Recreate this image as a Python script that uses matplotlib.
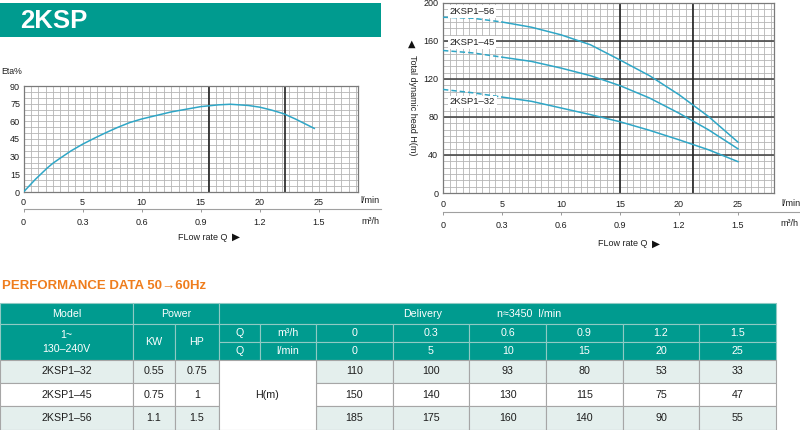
import numpy as np
import matplotlib
matplotlib.use('Agg')
import matplotlib.pyplot as plt
from matplotlib.patches import Rectangle

plt.rcParams['font.family'] = ['Liberation Sans', 'DejaVu Sans']

# efficiency curve (l/min, %)
q_eta = [0, 1, 2, 2.5, 3, 4, 5, 6, 7, 8, 9, 10, 12.5, 15, 16.5, 17.5, 19, 20, 21, 22, 23, 24.6]
eta = [0, 10.7, 20.3, 24.5, 28, 34.8, 40.6, 45.7, 50.5, 55, 59, 62, 68, 72.5, 74, 74.5, 73.5, 72, 69.5, 66.5, 62, 54]

# head curves (l/min, m)
q_head = [0, 2.5, 5, 7.5, 10, 12.5, 15, 17.5, 20, 22.5, 25]
head_56 = [185, 184, 180, 174.5, 166.5, 156, 140, 123.5, 103.5, 80.5, 53.5]
head_45 = [150, 147.5, 143, 138.5, 131.5, 123.5, 113, 100, 84, 66.5, 46.5]
head_32 = [109, 105.5, 101, 96.5, 89.5, 82.5, 75, 66, 56, 45.5, 33]

# table
models = ['2KSP1–32', '2KSP1–45', '2KSP1–56']
kw = ['0.55', '0.75', '1.1']
hp = ['0.75', '1', '1.5']
q_m3h = ['0', '0.3', '0.6', '0.9', '1.2', '1.5']
q_lmin = ['0', '5', '10', '15', '20', '25']
table_heads = [
    [110, 100, 93, 80, 53, 33],
    [150, 140, 130, 115, 75, 47],
    [185, 175, 160, 140, 90, 55],
]

TEAL = '#009b8f'
CURVE = '#2fa6c6'
TXT = '#1e1e1e'
FS = 6.5
W, H = 800, 430

fig = plt.figure(figsize=(8, 4.3), dpi=100)
ov = fig.add_axes([0, 0, 1, 1], zorder=0)
ov.set_xlim(0, W)
ov.set_ylim(H, 0)
ov.axis('off')


def px_axes(l, t, r, b):
    return fig.add_axes([l / W, (H - b) / H, (r - l) / W, (b - t) / H], zorder=2)


def draw_grid(ax, xstep, ystep, xmax, ymax):
    for x in np.arange(0, xmax, xstep):
        ax.axvline(x, color='#b5b5b5', lw=0.6, zorder=1)
    for y in np.arange(0, ymax, ystep):
        ax.axhline(y, color='#b5b5b5', lw=0.6, zorder=1)
    for s in ax.spines.values():
        s.set_color('#7a7a7a')
        s.set_linewidth(0.9)


def second_axis(ax, bottom_px, y_px, x_end):
    sec = ax.secondary_xaxis('bottom', functions=(lambda q: q * 0.06, lambda m: m / 0.06))
    sec.spines['bottom'].set_position(('outward', (y_px - bottom_px) * 0.72))
    sec.spines['bottom'].set_visible(False)
    sec.set_xticks([float(v) for v in q_m3h])
    sec.set_xticklabels(q_m3h)
    sec.tick_params(length=2.5, width=0.7, color='#999999', pad=4.2, labelsize=FS, labelcolor=TXT)
    x0 = ax.get_position().x0 * W
    ov.plot([x0, x_end], [y_px, y_px], color='#a0a0a0', lw=0.8)
    return sec


# banner
ov.add_patch(Rectangle((0, 3.3), 381, 34, color=TEAL, lw=0))
ov.text(20, 21, '2KSP', color='white', fontsize=18.5, fontweight='bold', va='center', ha='left')

# ---- efficiency chart
ax1 = px_axes(23.5, 86, 358, 192)
ax1.set_xlim(0, 28.3)
ax1.set_ylim(0, 90)
draw_grid(ax1, 0.625, 5, 28.3, 90)
ax1.axvline(15.7, color='#222222', lw=1.2, zorder=2)
ax1.axvline(22.1, color='#222222', lw=1.2, zorder=2)
ax1.plot(q_eta, eta, color=CURVE, lw=1.1, zorder=3)
ax1.set_xticks([int(v) for v in q_lmin])
ax1.set_yticks(range(0, 91, 15))
ax1.tick_params(length=0, labelsize=FS, labelcolor=TXT)
ax1.tick_params(axis='x', pad=4.2)
ax1.tick_params(axis='y', pad=2.5)
second_axis(ax1, 192, 209, 381)

ov.text(1, 72, 'Eta%', fontsize=6.3, va='center', ha='left', color=TXT)
ov.text(360, 200.7, 'l/min', fontsize=FS, va='center', ha='left', color=TXT)
ov.text(361, 221, 'm³/h', fontsize=FS, va='center', ha='left', color=TXT)
ov.text(227, 237, 'FLow rate Q', fontsize=FS, va='center', ha='right', color=TXT)
ov.text(232, 237, '▶', fontsize=7.5, va='center', ha='left', color='#111111',
        family=['DejaVu Sans'])

# ---- head chart
ax2 = px_axes(443, 3, 774, 193)
ax2.set_xlim(0, 28.05)
ax2.set_ylim(0, 200)
draw_grid(ax2, 5 / 9, 40 / 6, 28.05, 200)
for hl in [40, 80, 120, 160]:
    ax2.axhline(hl, color='#4a4a4a', lw=1.2, zorder=2)
ax2.axvline(15, color='#222222', lw=1.2, zorder=2)
ax2.axvline(21.2, color='#222222', lw=1.2, zorder=2)
for hv in [head_56, head_45, head_32]:
    ax2.plot(q_head[:3], hv[:3], color=CURVE, lw=1.1, ls=(0, (3.5, 2)), zorder=3)
    ax2.plot(q_head[2:], hv[2:], color=CURVE, lw=1.1, zorder=3)
for name, yl in [(models[2], 191), (models[1], 158.5), (models[0], 96)]:
    ax2.text(0.55, yl, name, fontsize=6.8, va='center', ha='left', color=TXT, zorder=4,
             bbox=dict(fc='white', ec='none', pad=1.2))
ax2.set_xticks([int(v) for v in q_lmin])
ax2.set_yticks(range(0, 201, 40))
ax2.tick_params(length=0, labelsize=FS, labelcolor=TXT)
ax2.tick_params(axis='x', pad=4.8)
ax2.tick_params(axis='y', pad=3.5)
second_axis(ax2, 193, 212, 800)

ov.text(781, 203, 'l/min', fontsize=FS, va='center', ha='left', color=TXT)
ov.text(780, 224, 'm³/h', fontsize=FS, va='center', ha='left', color=TXT)
ov.text(647, 244, 'FLow rate Q', fontsize=FS, va='center', ha='right', color=TXT)
ov.text(652, 244, '▶', fontsize=7.5, va='center', ha='left', color='#111111',
        family=['DejaVu Sans'])
ov.text(412, 43.5, '▲', fontsize=7, va='center', ha='center', color='#111111',
        family=['DejaVu Sans'])
ov.text(412, 105, 'Total dynamic head H(m)', fontsize=FS, rotation=270,
        va='center', ha='center', color=TXT)

# ---- performance table
ov.text(2, 286, 'PERFORMANCE DATA 50→60Hz', fontsize=9.5, fontweight='bold',
        color='#ef7d1d', va='center', ha='left')

cols = [0, 133, 175, 219, 260, 316, 392.7, 469.3, 546, 622.7, 699.3, 775.7]
rows = [303, 324, 341.5, 359.5, 382.5, 406, 429.5]
HDR_EDGE = '#8fcac4'
BODY_EDGE = '#a6a6a6'
LIGHT = '#e4efed'
TFS = 7.7


def cell(c0, c1, r0, r1, text='', fc=TEAL, tc='white', ec=HDR_EDGE):
    x0, x1 = cols[c0], cols[c1]
    y0, y1 = rows[r0], rows[r1]
    ov.add_patch(Rectangle((x0, y0), x1 - x0, y1 - y0, fc=fc, ec=ec, lw=0.8))
    if text:
        ov.text((x0 + x1) / 2, (y0 + y1) / 2 + 0.5, text, fontsize=TFS, color=tc,
                ha='center', va='center', linespacing=1.5)


cell(0, 1, 0, 1, 'Model')
cell(1, 3, 0, 1, 'Power')
cell(3, 11, 0, 1)
ov.text(403, (rows[0] + rows[1]) / 2 + 0.5, 'Delivery', fontsize=TFS, color='white', va='center')
ov.text(497, (rows[0] + rows[1]) / 2 + 0.5, 'n≈3450  l/min', fontsize=TFS, color='white', va='center')
cell(0, 1, 1, 3, '1~\n130–240V')
cell(1, 2, 1, 3, 'KW')
cell(2, 3, 1, 3, 'HP')
cell(3, 4, 1, 2, 'Q')
cell(4, 5, 1, 2, 'm³/h')
cell(3, 4, 2, 3, 'Q')
cell(4, 5, 2, 3, 'l/min')
for j in range(6):
    cell(5 + j, 6 + j, 1, 2, q_m3h[j])
    cell(5 + j, 6 + j, 2, 3, q_lmin[j])

for i in range(3):
    fc = LIGHT if i != 1 else 'white'
    r = 3 + i
    cell(0, 1, r, r + 1, models[i], fc=fc, tc=TXT, ec=BODY_EDGE)
    cell(1, 2, r, r + 1, kw[i], fc=fc, tc=TXT, ec=BODY_EDGE)
    cell(2, 3, r, r + 1, hp[i], fc=fc, tc=TXT, ec=BODY_EDGE)
    for j in range(6):
        cell(5 + j, 6 + j, r, r + 1, str(table_heads[i][j]), fc=fc, tc=TXT, ec=BODY_EDGE)
cell(3, 5, 3, 6, 'H(m)', fc='white', tc=TXT, ec=BODY_EDGE)

fig.savefig('out.png', dpi=100)
